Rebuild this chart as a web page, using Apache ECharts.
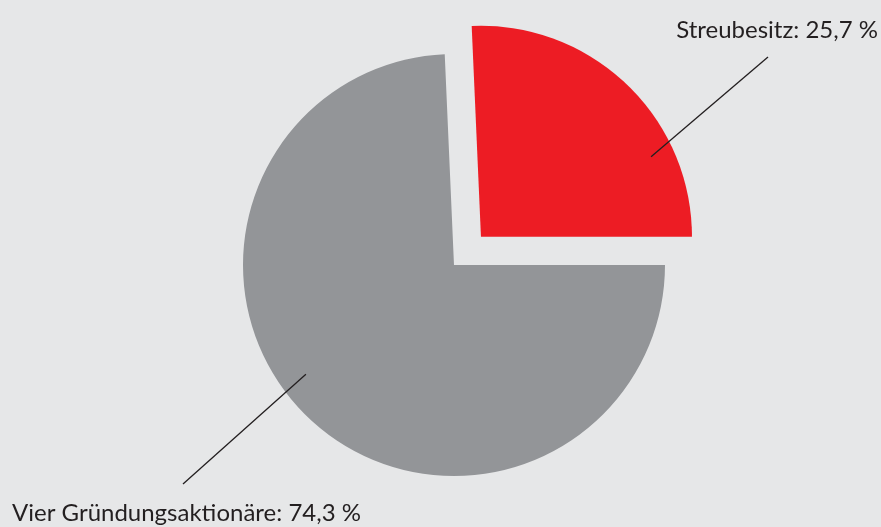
<!DOCTYPE html>
<html>
<head>
<meta charset="utf-8">
<script src="https://cdn.jsdelivr.net/npm/echarts@6/dist/echarts.min.js"></script>
<style>
  html, body { margin: 0; padding: 0; background: #e6e7e8; }
  #chart { width: 881px; height: 527px; }
</style>
</head>
<body>
<div id="chart"></div>
<script>
  const categories = ['Streubesitz', 'Vier Gründungsaktionäre'];
  const shares = [25.7, 74.3];
  const colors = ['#ed1c24', '#939598'];

  const center = [454, 265];
  const radius = 211;
  const offset = 39; // pull-out of the Streubesitz slice

  // label line start (angle in deg / distance from the slice tip), line end, text anchor
  const labelSpec = [
    { angle: 25.2, r: 188, end: [768, 57], text: [878, 30], align: 'right' },
    { angle: 216.4, r: 184, end: [183, 484], text: [12, 513], align: 'left' },
  ];

  const fmt = (v) => v.toFixed(1).replace('.', ',');
  const startAngle = (shares[0] / 100) * 360;
  const mid = ((startAngle / 2) * Math.PI) / 180;
  const centers = [
    [center[0] + offset * Math.cos(mid), center[1] - offset * Math.sin(mid)],
    center,
  ];

  const hidden = { itemStyle: { color: 'rgba(0,0,0,0)' }, label: { show: false }, labelLine: { show: false } };

  const basePie = {
    type: 'pie',
    radius: radius,
    startAngle: startAngle,
    clockwise: true,
    silent: true,
    emphasis: { disabled: true },
    itemStyle: { borderWidth: 0 },
    label: { show: false },
    labelLine: { show: false },
  };

  // one pie per slice so the red one can sit pulled out; the other slice stays blank
  const slices = categories.map((_, k) => ({
    ...basePie,
    z: 2 + (k === 0 ? 1 : 0),
    center: centers[k],
    data: categories.map((name, i) =>
      i === k ? { name: name, value: shares[i], itemStyle: { color: colors[i] } } : { name: name, value: shares[i], ...hidden },
    ),
  }));

  // transparent pie on top that only carries the labels and their lines
  const labels = {
    ...basePie,
    z: 5,
    center: center,
    itemStyle: { color: 'rgba(0,0,0,0)', borderWidth: 0 },
    label: {
      show: true,
      position: 'outside',
      overflow: 'none',
      color: '#231f20',
      fontFamily: 'Lato',
      fontSize: 24,
      formatter: (p) => `${p.name}: ${fmt(p.value)} %`,
    },
    labelLine: {
      show: true,
      showAbove: true,
      lineStyle: { color: '#231f20', width: 1.3 },
    },
    labelLayout: (p) => {
      const s = labelSpec[p.dataIndex];
      const c = centers[p.dataIndex];
      const a = (s.angle * Math.PI) / 180;
      const start = [c[0] + s.r * Math.cos(a), c[1] - s.r * Math.sin(a)];
      return {
        x: s.text[0],
        y: s.text[1],
        align: s.align,
        verticalAlign: 'middle',
        labelLinePoints: [start, s.end, s.end],
      };
    },
    data: categories.map((name, i) => ({ name: name, value: shares[i] })),
  };

  const chart = echarts.init(document.getElementById('chart'));

  chart.setOption({
    backgroundColor: '#e6e7e8',
    animation: false,
    series: [...slices, labels],
  });
</script>
</body>
</html>
